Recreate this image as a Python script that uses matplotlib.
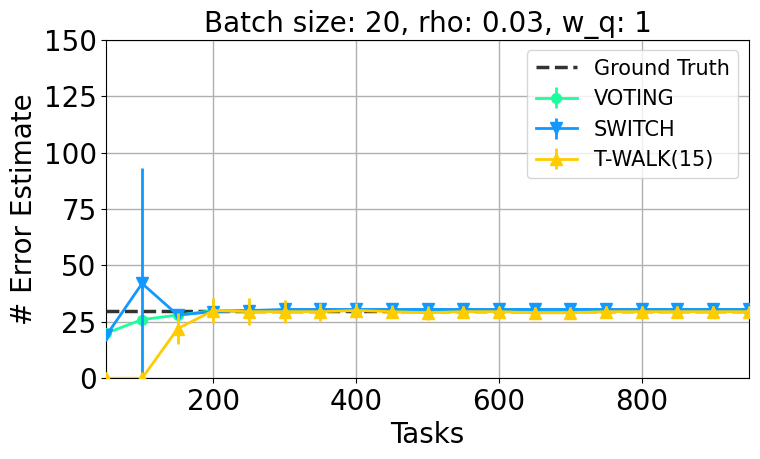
import matplotlib
matplotlib.use("Agg")
import matplotlib.pyplot as plt
import numpy as np

tasks = [50, 100, 150, 200, 250, 300, 350, 400, 450, 500, 550, 600, 650, 700, 750, 800, 850, 900, 950]
ground_truth = 30

voting = [20, 26, 28, 30, 30, 30, 30, 30, 30, 30, 30, 30, 30, 30, 30, 30, 30, 30, 30]
voting_err = [1, 1, 1, 1, 1, 1, 1, 1, 1, 1, 1, 1, 1, 1, 1, 1, 1, 1, 1]

switch = [19, 42, 28, 29.5, 30, 30.5, 30.5, 30.5, 30.5, 30.5, 30.5, 30.5, 30.5, 30.5, 30.5, 30.5, 30.5, 30.5, 30.5]
switch_err = [1, 51, 1, 1, 1, 1, 1, 1, 1, 1, 1, 1, 1, 1, 1, 1, 1, 1, 1]

twalk = [0, 0, 22, 30, 29.5, 29.5, 29.5, 30, 29.5, 29, 29.5, 29.5, 29, 29, 29.5, 29.5, 29.5, 29.5, 29.5]
twalk_err = [0, 0, 7, 5.5, 6, 5, 4, 3.5, 3, 3, 2.5, 2.5, 2.5, 2.5, 2.5, 2.5, 2.5, 2.5, 2.5]

fig, ax = plt.subplots(figsize=(7.6, 4.59), dpi=100)
ax.axhline(ground_truth, color='#333333', linestyle='--', linewidth=2.5, label='Ground Truth', zorder=3)
ax.errorbar(tasks, voting, yerr=voting_err, color='#1aff9c', marker='o', markersize=7, linewidth=2, elinewidth=2, label='VOTING', zorder=4)
ax.errorbar(tasks, switch, yerr=switch_err, color='#1199ff', marker='v', markersize=9, linewidth=2, elinewidth=2, label='SWITCH', zorder=5)
ax.errorbar(tasks, twalk, yerr=twalk_err, color='#ffcc00', marker='^', markersize=9, linewidth=2, elinewidth=2, label='T-WALK(15)', zorder=6)

ax.set_xlim(50, 950)
ax.set_ylim(0, 150)
ax.set_xticks([200, 400, 600, 800])
ax.set_yticks([0, 25, 50, 75, 100, 125, 150])
ax.tick_params(labelsize=20)
ax.grid(True, color='#b0b0b0', linewidth=1)
ax.set_axisbelow(True)
ax.set_xlabel('Tasks', fontsize=20)
ax.set_ylabel('# Error Estimate', fontsize=20)
ax.set_title('Batch size: 20, rho: 0.03, w_q: 1', fontsize=20)
ax.legend(fontsize=15, loc='upper right')
fig.subplots_adjust(left=0.14, right=0.985, top=0.913, bottom=0.176)
fig.savefig('out.png', dpi=100)
